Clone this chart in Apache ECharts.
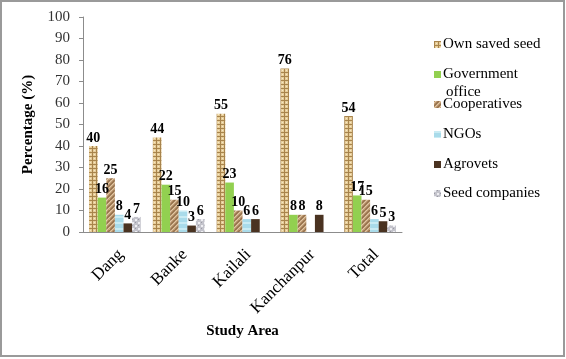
<!DOCTYPE html>
<html><head><meta charset="utf-8">
<script src="https://cdn.jsdelivr.net/npm/echarts@6/dist/echarts.min.js"></script>
<style>html,body{margin:0;padding:0;background:#fff}#c{width:566px;height:359px}</style>
</head><body><div id="c"></div>
<script>
const categories = ['Dang', 'Banke', 'Kailali', 'Kanchanpur', 'Total'];
const seriesNames = ['Own saved seed', 'Government office', 'Cooperatives', 'NGOs', 'Agrovets', 'Seed companies'];
const ownSaved = [40, 44, 55, 76, 54];
const government = [16, 22, 23, 8, 17];
const cooperatives = [25, 15, 10, 8, 15];
const ngos = [8, 10, 6, null, 6];
const agrovets = [4, 3, 6, 8, 5];
const seedCompanies = [7, 6, null, null, 3];
const yTicks = [0, 10, 20, 30, 40, 50, 60, 70, 80, 90, 100];

function pattern(draw, w, h) {
  const c = document.createElement('canvas'); c.width = w; c.height = h;
  const g = c.getContext('2d'); draw(g, w, h);
  return { image: c, repeat: 'repeat' };
}
const burlap = pattern((g, w, h) => {
  g.fillStyle = '#e6cc98'; g.fillRect(0, 0, w, h);
  g.fillStyle = '#a8844c';
  for (let y = 0; y < h; y += 4) g.fillRect(0, y, w, 1);
  for (let x = 0; x < w; x += 4) g.fillRect(x, 0, 1, h);
  g.fillStyle = '#f6e8c6';
  for (let y = 2; y < h; y += 4) for (let x = 2; x < w; x += 4) g.fillRect(x, y, 1, 1);
}, 8, 8);
const coop = pattern((g, w, h) => {
  g.fillStyle = '#c7a27a'; g.fillRect(0, 0, w, h);
  g.strokeStyle = '#94704b'; g.lineWidth = 1.5;
  for (let i = -h; i < w; i += 5) { g.beginPath(); g.moveTo(i, h); g.lineTo(i + h, 0); g.stroke(); }
  g.strokeStyle = '#e0c8a6'; g.lineWidth = 1;
  for (let i = -h + 2; i < w; i += 5) { g.beginPath(); g.moveTo(i, h); g.lineTo(i + h, 0); g.stroke(); }
}, 10, 10);
const ngo = pattern((g, w, h) => {
  g.fillStyle = '#a9dbea'; g.fillRect(0, 0, w, h);
  g.fillStyle = '#c9ebf3'; g.fillRect(0, 0, w, 2);
}, 6, 6);
const seedco = pattern((g, w, h) => {
  g.fillStyle = '#c3c3cb'; g.fillRect(0, 0, w, h);
  g.fillStyle = '#eeeef2'; g.fillRect(0, 0, 2, 2); g.fillRect(3, 3, 2, 2);
  g.fillStyle = '#9a9aa4'; g.fillRect(3, 0, 1, 1); g.fillRect(0, 3, 1, 1);
}, 6, 6);
const colors = [burlap, '#92d050', coop, ngo, '#4a3321', seedco];
const dataSets = [ownSaved, government, cooperatives, ngos, agrovets, seedCompanies];

const font = '"Liberation Serif", "Times New Roman", serif';
const legendTops = [31, 61, 91, 121, 151, 180];
const legends = seriesNames.map((n, i) => ({
  data: [n], left: 429, top: legendTops[i], orient: 'vertical',
  itemWidth: 7, itemHeight: 7, itemGap: 0, icon: 'rect',
  formatter: n === 'Government office' ? 'Government' : '{name}',
  textStyle: { fontFamily: font, fontSize: 15, color: '#000', lineHeight: 17, padding: [0, 0, 0, -3] }
}));

const chart = echarts.init(document.getElementById('c'), null, { renderer: 'canvas' });
chart.setOption({
  animation: false,
  backgroundColor: '#fff',
  color: colors,
  legend: legends,
  grid: { left: 83, right: 164, top: 17, bottom: 127, containLabel: false },
  graphic: [
    { type: 'rect', shape: { x: 1, y: 1, width: 563, height: 355 }, style: { fill: 'none', stroke: '#9a9a9a', lineWidth: 2 } },
    { type: 'text', left: 446, top: 85, style: { text: 'office', font: '15px ' + font, fill: '#000' } }
  ],
  xAxis: {
    type: 'category', data: categories,
    name: 'Study Area', nameLocation: 'middle', nameGap: 92,
    nameTextStyle: { fontFamily: font, fontSize: 15, fontWeight: 'bold', color: '#000' },
    axisLine: { lineStyle: { color: '#8c8c8c', width: 1 } },
    axisTick: { show: false },
    axisLabel: { rotate: 45, fontFamily: font, fontSize: 17, color: '#000', margin: 14, verticalAlign: 'top' }
  },
  yAxis: {
    type: 'value', min: 0, max: 100, interval: 10,
    name: 'Percentage (%)', nameLocation: 'middle', nameGap: 47,
    nameTextStyle: { fontFamily: font, fontSize: 15, fontWeight: 'bold', color: '#000' },
    axisLine: { show: true, lineStyle: { color: '#8c8c8c', width: 1 } },
    axisTick: { show: true, length: 4, lineStyle: { color: '#8c8c8c' } },
    splitLine: { show: false },
    axisLabel: { fontFamily: font, fontSize: 15, color: '#333', margin: 13,
      formatter: v => yTicks.includes(v) ? String(v) : '' }
  },
  series: seriesNames.map((n, i) => ({
    name: n, type: 'bar', data: dataSets[i],
    barGap: '0%', barCategoryGap: '19%',
    itemStyle: { color: colors[i] },
    label: { show: true, position: 'top', distance: 1, fontFamily: font, fontSize: 14, fontWeight: 'bold', color: '#000' }
  }))
});
</script></body></html>
